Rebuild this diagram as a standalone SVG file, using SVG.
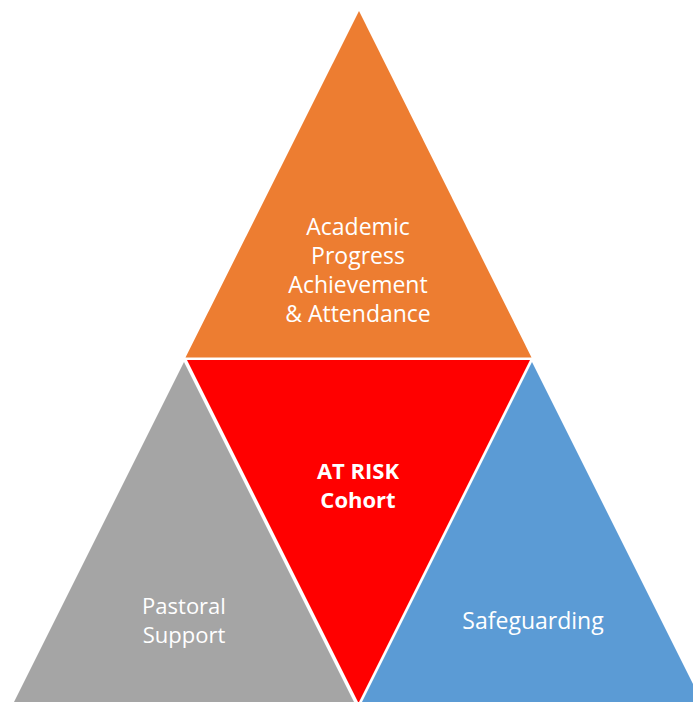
<svg xmlns="http://www.w3.org/2000/svg" width="693" height="702" viewBox="0 0 693 702">
<style>
.lbl{font-family:"Open Sans","Noto Sans","Liberation Sans",sans-serif;fill:#FFFFFF;text-anchor:middle}
.n{font-size:23px}
.s{font-size:22px}
.b{font-size:22px;font-weight:bold}
</style>
<rect width="693" height="702" fill="#FFFFFF"/>
<g id="academic">
<polygon points="359,11 185.5,357.5 531.5,357.5" fill="#ED7D31"/>
<text class="lbl n" x="358" y="235">Academic</text>
<text class="lbl n" x="358" y="264">Progress</text>
<text class="lbl n" x="358" y="293">Achievement</text>
<text class="lbl n" x="358" y="322">&amp; Attendance</text>
</g>
<g id="atrisk">
<polygon points="187,360 530,360 358.5,703" fill="#FF0000"/>
<text class="lbl b" x="358" y="479">AT RISK</text>
<text class="lbl b" x="358" y="508">Cohort</text>
</g>
<g id="pastoral">
<polygon points="184,362 13,704 355,704" fill="#A5A5A5"/>
<text class="lbl s" x="184" y="614">Pastoral</text>
<text class="lbl s" x="184" y="643">Support</text>
</g>
<g id="safeguarding">
<polygon points="532,362 361,704 703,704" fill="#5B9BD5"/>
<text class="lbl n" x="533" y="629">Safeguarding</text>
</g>
</svg>
